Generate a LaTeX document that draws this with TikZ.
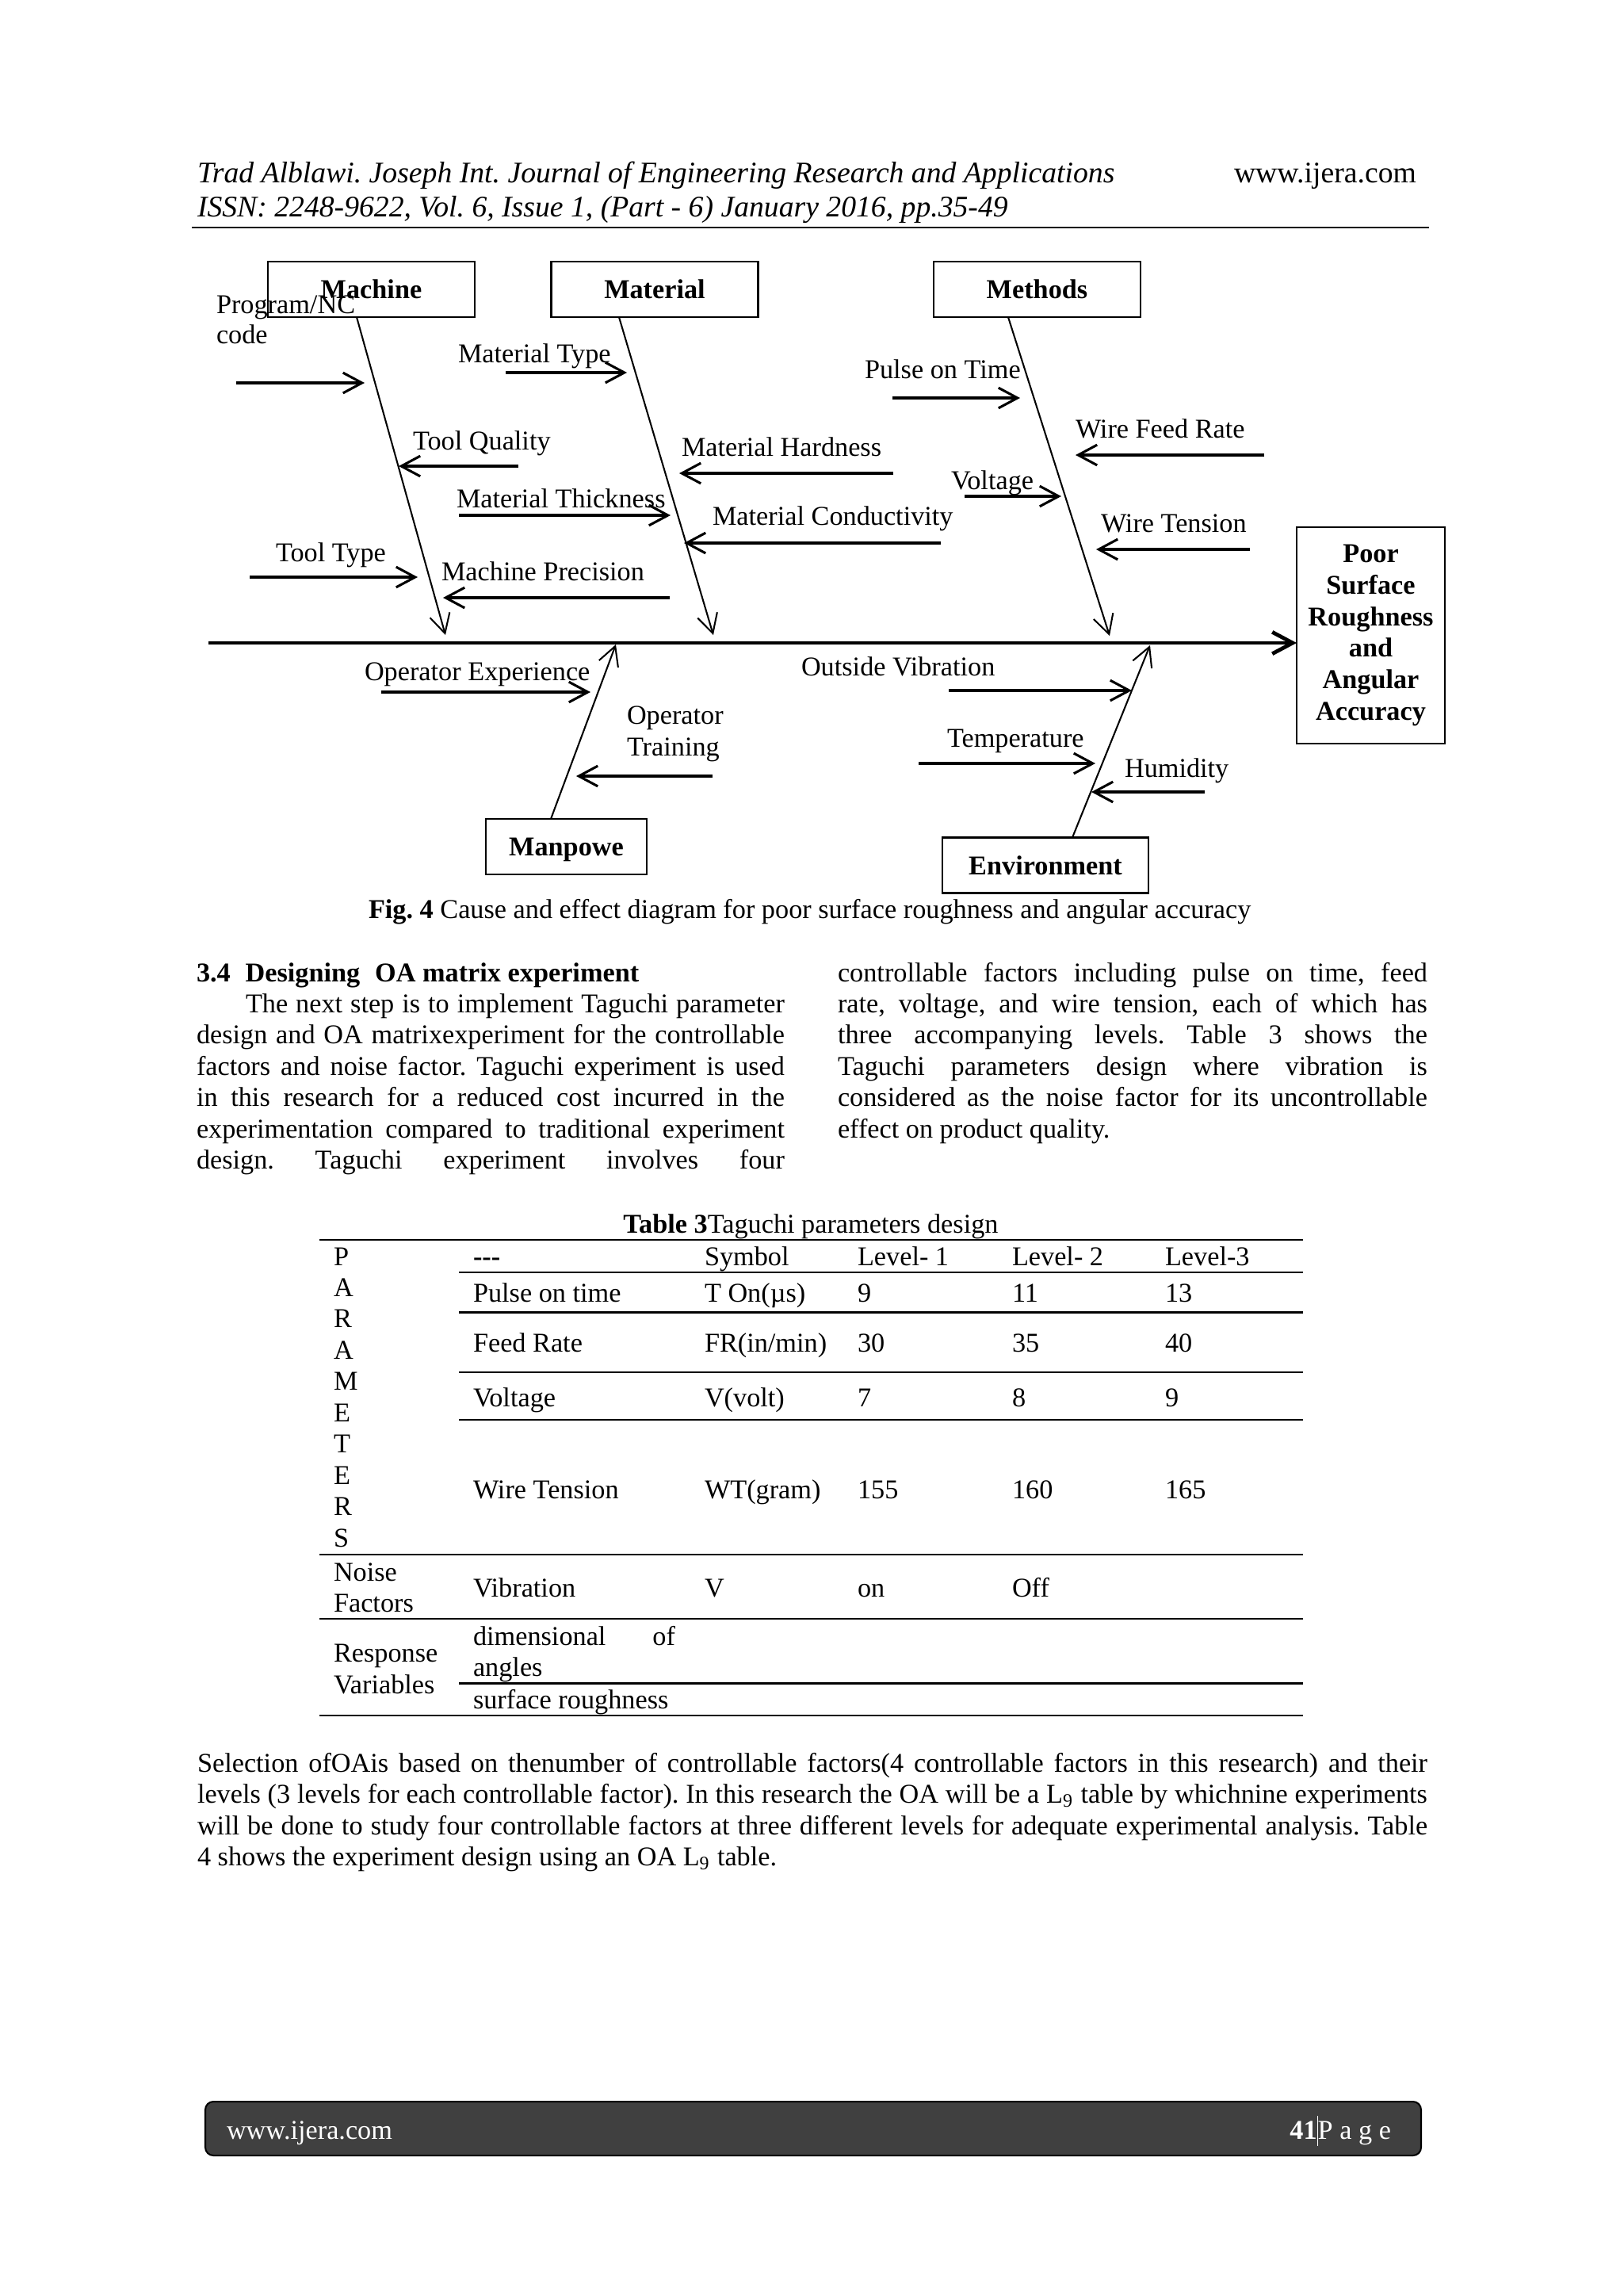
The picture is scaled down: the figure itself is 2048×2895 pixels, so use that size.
\documentclass[tikz,border=0pt]{standalone}
\usepackage{fontspec}
\setmainfont{Liberation Serif}
\usetikzlibrary{arrows.meta}
\newlength\px
\setlength\px{0.10259mm}
\newcommand{\myjust}[2]{\makebox[#1\px][s]{#2}}
\frenchspacing
\begin{document}
\frenchspacing
\begin{tikzpicture}[x=0.10259mm,y=-0.10259mm,
  every node/.style={inner sep=0pt, outer sep=0pt},
  txt/.style={anchor=base west, font=\fontsize{10}{12}\selectfont\frenchspacing},
  hdr/.style={anchor=base west, font=\fontsize{11}{13}\selectfont},
  hdri/.style={anchor=base west, font=\fontsize{11}{13}\selectfont\itshape},
  catbox/.style={draw, line width=0.8pt, minimum width=261\px, minimum height=70\px, text depth=0pt, font=\fontsize{10}{12}\selectfont\bfseries},
  bone/.style={line width=0.6pt, -{Straight Barb[length=7pt,width=7.5pt]}},
  cause/.style={line width=0.9pt, -{Straight Barb[length=7pt,width=7.5pt]}},
  spine/.style={line width=1.4pt, -{Straight Barb[length=7.5pt,width=8pt]}},
  trule/.style={line width=0.65pt},
]
\useasboundingbox (0,0) rectangle (2048,2895);
\fill[white] (0,0) rectangle (2048,2895);

% ---------------- header
\node[hdri] (h1) at (249,230) {Trad Alblawi. Joseph Int. Journal of Engineering Research and Applications};
\node[hdr] (h2) at (1557,230) {www.ijera.com};
\node[hdri] (h3) at (249,273) {ISSN: 2248-9622, Vol. 6, Issue 1, (Part - 6) January 2016, pp.35-49};
\coordinate (hr0) at (242,287);
\coordinate (hr1) at (1803,287);
\draw[line width=0.7pt] (hr0) -- (hr1);

% ---------------- fishbone
\node[catbox] (machine) at (468.5,365) {Machine};
\node[catbox] (material) at (826,365) {Material};
\node[catbox] (methods) at (1308.5,365) {Methods};
\node[catbox, minimum width=203\px] (manpowe) at (714.5,1068) {Manpowe};
\node[catbox, minimum width=260\px] (environment) at (1319,1091.5) {Environment};
\node[draw, line width=0.8pt, minimum width=187\px, minimum height=273\px, align=center,
      font=\bfseries\fontsize{10}{11.63}\selectfont] (poor) at (1729.5,801.5)
      {Poor\\Surface\\Roughness\\and\\Angular\\Accuracy};

\coordinate (sp0) at (263,811);
\draw[spine] (sp0) -- (sp0 -| poor.west);

\coordinate (mb0) at (450,403);  \coordinate (mb1) at (562,801);
\coordinate (tb0) at (781,403);  \coordinate (tb1) at (900,801);
\coordinate (eb0) at (1272,403); \coordinate (eb1) at (1400,802);
\coordinate (pb0) at (695,1033); \coordinate (pb1) at (777,813);
\coordinate (vb0) at (1353,1057);\coordinate (vb1) at (1451,814);
\draw[bone] (mb0 |- machine.south) -- (mb1);
\draw[bone] (tb0 |- material.south) -- (tb1);
\draw[bone] (eb0 |- methods.south) -- (eb1);
\draw[bone] (pb0 |- manpowe.north) -- (pb1);
\draw[bone] (vb0 |- environment.north) -- (vb1);

% labels
\node[txt] (pnc1) at (273,395) {Program/NC};
\node[txt] (pnc2) at (273,433) {code};
\node[txt] (mtype) at (578,457) {Material Type};
\node[txt] (tqual) at (521,567) {Tool Quality};
\node[txt] (mhard) at (860,575) {Material Hardness};
\node[txt] (mthick) at (576,640) {Material Thickness};
\node[txt] (mcond) at (899,662) {Material Conductivity};
\node[txt] (ttype) at (348,708) {Tool Type};
\node[txt] (mprec) at (557,732) {Machine Precision};
\node[txt] (pulse) at (1091,477) {Pulse on Time};
\node[txt] (wfeed) at (1357,552) {Wire Feed Rate};
\node[txt] (volt) at (1200,617) {Voltage};
\node[txt] (wtens) at (1389,671) {Wire Tension};
\node[txt] (opexp) at (460,858) {Operator Experience};
\node[txt] (optr1) at (791,913) {Operator};
\node[txt] (optr2) at (791,953) {Training};
\node[txt] (outv) at (1011,852) {Outside Vibration};
\node[txt] (temp) at (1195,942) {Temperature};
\node[txt] (humid) at (1419,980) {Humidity};

% cause arrows
\coordinate (c1a) at (298,483);  \coordinate (c1b) at (460,483);
\coordinate (c2a) at (638,470);  \coordinate (c2b) at (791,470);
\coordinate (c3a) at (654,588);  \coordinate (c3b) at (503,588);
\coordinate (c4a) at (1127,597); \coordinate (c4b) at (857,597);
\coordinate (c5a) at (579,650);  \coordinate (c5b) at (846,650);
\coordinate (c6a) at (1187,685); \coordinate (c6b) at (863,685);
\coordinate (c7a) at (315,728);  \coordinate (c7b) at (527,728);
\coordinate (c8a) at (845,754);  \coordinate (c8b) at (559,754);
\coordinate (c9a) at (1126,502); \coordinate (c9b) at (1287,502);
\coordinate (c10a) at (1595,574);\coordinate (c10b) at (1357,574);
\coordinate (c11a) at (1217,626);\coordinate (c11b) at (1339,626);
\coordinate (c12a) at (1577,693);\coordinate (c12b) at (1383,693);
\coordinate (c13a) at (481,873); \coordinate (c13b) at (745,873);
\coordinate (c14a) at (899,979); \coordinate (c14b) at (727,979);
\coordinate (c15a) at (1197,871);\coordinate (c15b) at (1428,871);
\coordinate (c16a) at (1159,963);\coordinate (c16b) at (1382,963);
\coordinate (c17a) at (1520,999);\coordinate (c17b) at (1377,999);
\foreach \i in {1,...,17} {\draw[cause] (c\i a) -- (c\i b);}

\node[txt] (figcap) at (465,1158) {\textbf{Fig. 4} Cause and effect diagram for poor surface roughness and angular accuracy};

% ---------------- section text
\node[txt] (sec) at (248,1238) {\textbf{3.4\hspace{0.55em}Designing\hspace{0.55em}OA matrix experiment}};
\node[txt] (l1) at (310,1277) {\myjust{680}{The next step is to implement Taguchi parameter}};
\node[txt] (l2) at (248,1316) {\myjust{742}{design and OA matrixexperiment for the controllable}};
\node[txt] (l3) at (248,1356) {\myjust{742}{factors and noise factor. Taguchi experiment is used}};
\node[txt] (l4) at (248,1395) {\myjust{742}{in this research for a reduced cost incurred in the}};
\node[txt] (l5) at (248,1435) {\myjust{742}{experimentation compared to traditional experiment}};
\node[txt] (l6) at (248,1474) {\myjust{742}{design. Taguchi experiment involves four}};
\node[txt] (r1) at (1057,1238) {\myjust{744}{controllable factors including pulse on time, feed}};
\node[txt] (r2) at (1057,1277) {\myjust{744}{rate, voltage, and wire tension, each of which has}};
\node[txt] (r3) at (1057,1316) {\myjust{744}{three accompanying levels. Table 3 shows the}};
\node[txt] (r4) at (1057,1356) {\myjust{744}{Taguchi parameters design where vibration is}};
\node[txt] (r5) at (1057,1395) {\myjust{744}{considered as the noise factor for its uncontrollable}};
\node[txt] (r6) at (1057,1435) {effect on product quality.};

% ---------------- table
\node[txt, anchor=base] (tcap) at (1023,1555) {\textbf{Table 3}Taguchi parameters design};
\coordinate (tl) at (403,0); \coordinate (tm) at (579,0); \coordinate (tr) at (1644,0);
\foreach \y in {1564,1961,2042,2164} {\draw[trule] (tl |- 0,\y) -- (tr |- 0,\y);}
\foreach \y in {1605,1655.5,1731,1791,2123.5} {\draw[trule] (tm |- 0,\y) -- (tr |- 0,\y);}
\foreach \L [count=\k from 0] in {P,A,R,A,M,E,T,E,R,S}
  {\node[txt] (pl\k) at (421,1596+39.45*\k) {\L};}
\node[txt] (th1) at (597,1596) {\textbf{-{}-{}-}};
\node[txt] (th2) at (889,1596) {Symbol};
\node[txt] (th3) at (1082,1596) {Level- 1};
\node[txt] (th4) at (1277,1596) {Level- 2};
\node[txt] (th5) at (1470,1596) {Level-3};
\node[txt] (ta1) at (597,1642) {Pulse on time};
\node[txt] (ta2) at (889,1642) {T On(µs)};
\node[txt] (ta3) at (1082,1642) {9};
\node[txt] (ta4) at (1277,1642) {11};
\node[txt] (ta5) at (1470,1642) {13};
\node[txt] (tb1) at (597,1705) {Feed Rate};
\node[txt] (tb2) at (889,1705) {FR(in/min)};
\node[txt] (tb3) at (1082,1705) {30};
\node[txt] (tb4) at (1277,1705) {35};
\node[txt] (tb5) at (1470,1705) {40};
\node[txt] (tc1) at (597,1774) {Voltage};
\node[txt] (tc2) at (889,1774) {V(volt)};
\node[txt] (tc3) at (1082,1774) {7};
\node[txt] (tc4) at (1277,1774) {8};
\node[txt] (tc5) at (1470,1774) {9};
\node[txt] (td1) at (597,1890) {Wire Tension};
\node[txt] (td2) at (889,1890) {WT(gram)};
\node[txt] (td3) at (1082,1890) {155};
\node[txt] (td4) at (1277,1890) {160};
\node[txt] (td5) at (1470,1890) {165};
\node[txt] (tn0) at (421,1994) {Noise};
\node[txt] (tn0b) at (421,2033) {Factors};
\node[txt] (tn1) at (597,2014) {Vibration};
\node[txt] (tn2) at (889,2014) {V};
\node[txt] (tn3) at (1082,2014) {on};
\node[txt] (tn4) at (1277,2014) {Off};
\node[txt] (tr0) at (421,2096) {Response};
\node[txt] (tr0b) at (421,2136) {Variables};
\node[txt] (tr1) at (597,2075) {\myjust{255}{dimensional of}};
\node[txt] (tr1b) at (597,2114) {angles};
\node[txt] (tr2) at (597,2155) {surface roughness};

% ---------------- bottom paragraph
\node[txt] (b1) at (249,2235) {\myjust{1552}{Selection ofOAis based on thenumber of controllable factors(4 controllable factors in this research) and their}};
\node[txt] (b2) at (249,2274) {\myjust{1552}{levels (3 levels for each controllable factor). In this research the OA will be a L\textsubscript{9} table by whichnine experiments}};
\node[txt] (b3) at (249,2314) {\myjust{1552}{will be done to study four controllable factors at three different levels for adequate experimental analysis. Table}};
\node[txt] (b4) at (249,2353) {4 shows the experiment design using an OA L\textsubscript{9} table.};

% ---------------- footer
\node[draw=black, line width=0.6pt, fill=black!75, rounded corners=3pt,
      minimum width=1534\px, minimum height=68\px] (foot) at (1026,2685) {};
\node[txt, text=white] (fl) at (286,2698) {www.ijera.com};
\node[txt, text=white, anchor=base east] (fr) at (1755,2698) {\textbf{41}\rule[-2.5pt]{0.3pt}{11pt}P a g e};
\end{tikzpicture}
\end{document}
